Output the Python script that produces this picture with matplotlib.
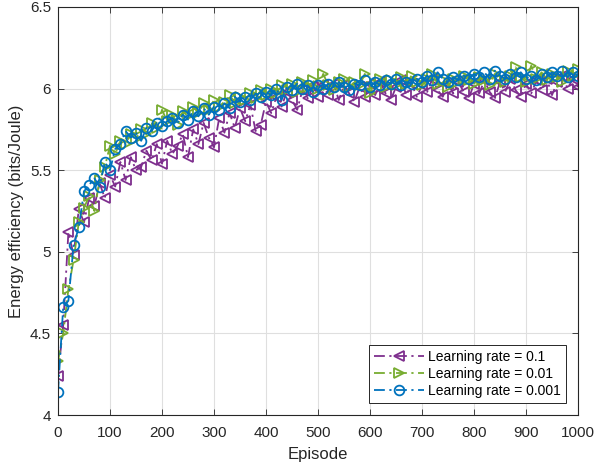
import numpy as np
import matplotlib
matplotlib.use("Agg")
import matplotlib.pyplot as plt

plt.rcParams['font.family'] = ['Liberation Sans', 'DejaVu Sans']

# Training episodes (sampled every 10 episodes)
episodes = list(range(0, 1001, 10))

# Energy efficiency (bits/Joule) for each learning rate
ee_lr_0_1 = [
    4.24, 4.55, 5.12, 4.98, 5.26, 5.18, 5.33, 5.28, 5.42, 5.33,
    5.47, 5.40, 5.55, 5.44, 5.58, 5.50, 5.52, 5.62, 5.56, 5.66,
    5.54, 5.68, 5.60, 5.65, 5.72, 5.58, 5.75, 5.66, 5.79, 5.70,
    5.64, 5.82, 5.73, 5.85, 5.76, 5.88, 5.80, 5.90, 5.74, 5.78,
    5.92, 5.85, 5.95, 5.89, 5.98, 5.93, 5.87, 5.99, 5.94, 6.01,
    5.95, 6.02, 5.96, 6.03, 5.93, 6.02, 5.97, 5.92, 6.01, 5.95,
    6.03, 5.96, 6.04, 5.97, 5.93, 6.01, 6.05, 5.96, 6.03, 5.95,
    6.02, 5.98, 6.06, 5.99, 5.95, 6.03, 5.97, 6.04, 5.98, 5.94,
    6.03, 5.97, 6.05, 5.98, 5.94, 6.04, 5.98, 6.06, 5.99, 5.95,
    6.03, 5.97, 6.05, 5.99, 6.06, 5.96, 6.04, 6.08, 6.00, 6.06,
    6.01,
]

ee_lr_0_01 = [
    4.33, 4.50, 4.77, 4.95, 5.18, 5.27, 5.34, 5.25, 5.44, 5.52,
    5.65, 5.60, 5.68, 5.66, 5.72, 5.69, 5.75, 5.72, 5.79, 5.76,
    5.87, 5.80, 5.84, 5.78, 5.86, 5.83, 5.89, 5.85, 5.91, 5.87,
    5.93, 5.89, 5.92, 5.96, 5.91, 5.95, 5.93, 5.97, 5.94, 5.99,
    5.96, 6.00, 5.97, 6.02, 5.99, 6.03, 5.98, 6.04, 6.01, 6.05,
    6.00, 6.09, 6.02, 5.99, 6.04, 6.06, 6.01, 6.04, 6.02, 6.09,
    5.97, 6.03, 6.06, 6.01, 6.05, 6.02, 6.07, 6.03, 6.08, 6.04,
    6.02, 6.06, 6.09, 6.03, 6.05, 6.01, 6.06, 6.04, 6.08, 6.05,
    6.03, 6.07, 6.05, 6.02, 6.09, 6.06, 6.04, 6.08, 6.13, 6.07,
    6.04, 6.14, 6.06, 6.10, 6.05, 6.09, 6.07, 6.04, 6.11, 6.08,
    6.12,
]

ee_lr_0_001 = [
    4.14, 4.66, 4.70, 5.04, 5.15, 5.37, 5.41, 5.45, 5.40, 5.55,
    5.50, 5.63, 5.66, 5.74, 5.70, 5.73, 5.68, 5.76, 5.74, 5.79,
    5.77, 5.80, 5.82, 5.79, 5.84, 5.81, 5.86, 5.83, 5.88, 5.84,
    5.89, 5.87, 5.91, 5.88, 5.95, 5.92, 5.95, 5.93, 5.97, 5.95,
    5.98, 5.96, 6.00, 5.93, 6.01, 5.99, 6.03, 6.00, 6.02, 5.98,
    6.02, 6.00, 6.03, 6.01, 6.04, 6.01, 5.99, 6.03, 6.02, 6.05,
    6.01, 6.04, 6.02, 6.05, 6.03, 6.06, 6.02, 6.04, 6.03, 6.06,
    6.04, 6.08, 6.05, 6.10, 6.06, 6.04, 6.07, 6.05, 6.08, 6.06,
    6.09, 6.07, 6.10, 6.06, 6.11, 6.08, 6.06, 6.09, 6.07, 6.10,
    6.06, 6.08, 6.05, 6.09, 6.07, 6.10, 6.08, 6.11, 6.07, 6.10,
    6.08,
]

labels = ["Learning rate = 0.1", "Learning rate = 0.01", "Learning rate = 0.001"]
colors = ["#7E2F8E", "#77AC30", "#0072BD"]
markers = ["<", ">", "o"]

fig = plt.figure(figsize=(5.96, 4.69), dpi=100)
ax = fig.add_axes([0.0973, 0.1151, 0.8725, 0.870])

for y, lab, c, m in zip([ee_lr_0_1, ee_lr_0_01, ee_lr_0_001], labels, colors, markers):
    ax.plot(episodes, y, linestyle=(0, (6, 2.5, 1.2, 2.5)), color=c, lw=1.3,
            marker=m, markersize=7, markerfacecolor='none', markeredgewidth=1.3,
            label=lab)

ax.set_xlim(0, 1000)
ax.set_ylim(4, 6.5)
ax.set_xticks(range(0, 1001, 100))
ax.set_yticks([4, 4.5, 5, 5.5, 6, 6.5])
ax.set_yticklabels(["4", "4.5", "5", "5.5", "6", "6.5"])
ax.tick_params(direction='in', labelsize=11, length=4, width=0.6, top=True, right=True,
               colors='#262626', labelcolor='#262626')
ax.tick_params(axis='x', pad=8)
ax.tick_params(axis='y', pad=5)
ax.grid(True, color='#dfdfdf', linewidth=0.8)
ax.set_axisbelow(True)
for s in ax.spines.values():
    s.set_linewidth(0.8)
    s.set_color('#262626')

ax.set_xlabel("Episode", fontsize=12, color='#262626', labelpad=5)
ax.set_ylabel("Energy efficiency (bits/Joule)", fontsize=12, color='#262626', labelpad=4)

leg = ax.legend(loc='lower right', fontsize=10, frameon=True, fancybox=False,
                edgecolor='#262626', framealpha=1, handlelength=3.6,
                borderaxespad=0.9, labelspacing=0.2, borderpad=0.35, handletextpad=0.3)
leg.get_frame().set_linewidth(0.7)

fig.savefig("out.png", dpi=100)
